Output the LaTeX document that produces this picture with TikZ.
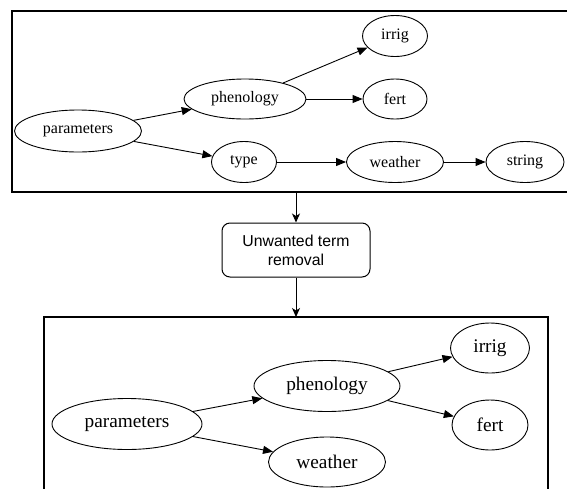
\documentclass[tikz,border=0pt]{standalone}
\usepackage{fontspec}
\setmainfont{Liberation Serif}
\newfontfamily\boxfont{Liberation Sans}
\usetikzlibrary{arrows.meta, shapes.geometric}
\tikzset{
  term/.style = {ellipse, draw, line width=0.9pt, inner sep=0pt},
  small/.style = {term, font=\fontsize{16}{18}\selectfont},
  big/.style = {term, font=\fontsize{19.3}{22}\selectfont},
  dep/.style = {line width=0.9pt, -{Triangle[length=10pt,width=8pt]}},
  flow/.style = {line width=1pt, -{Stealth[length=9pt,width=8pt,inset=2.5pt]}},
  frame/.style = {draw, line width=1.2pt},
  stepbox/.style = {draw, line width=1pt, rounded corners=8pt, align=center,
    minimum width=148pt, minimum height=54pt, inner sep=0pt,
    font=\boxfont\fontsize{15.8}{19}\selectfont}
}

\begin{document}
\begin{tikzpicture}[x=1pt, y=-1pt]
\clip (0,0) rectangle (567,488);

% upper graph
\draw[frame] (12,11) rectangle (590,192);
\node at (78,131) [small, minimum width=127pt, minimum height=42pt] (par1) {parameters};
\node at (245,99) [small, minimum width=122pt, minimum height=40pt] (phen1) {phenology};
\node at (395,36) [small, minimum width=65pt, minimum height=41pt] (irr1) {irrig};
\node at (395,99) [small, minimum width=64pt, minimum height=40pt] (fert1) {fert};
\node at (244,162) [small, minimum width=65pt, minimum height=41pt] (type1) {type};
\node at (395,162) [small, minimum width=97pt, minimum height=41pt] (wea1) {weather};
\node at (525,162) [small, minimum width=78pt, minimum height=41pt] (str1) {string};

\draw[dep] (par1)--(phen1);
\draw[dep] (par1)--(type1);
\draw[dep] (phen1)--(irr1);
\draw[dep] (phen1)--(fert1);
\draw[dep] (type1)--(wea1);
\draw[dep] (wea1)--(str1);

% removal step
\coordinate (out1) at (296,192);
\coordinate (in2) at (296,317);
\node at (296,250) [stepbox] (rm) {Unwanted term\\removal};
\draw[flow] (out1)--(rm);
\draw[flow] (rm)--(in2);

% lower graph
\draw[frame] (44,317) rectangle (548,500);
\node at (127,424) [big, minimum width=150pt, minimum height=51pt] (par2) {parameters};
\node at (327,386) [big, minimum width=146pt, minimum height=51pt] (phen2) {phenology};
\node at (490,348) [big, minimum width=79pt, minimum height=50pt] (irr2) {irrig};
\node at (490,425) [big, minimum width=76pt, minimum height=50pt] (fert2) {fert};
\node at (327,462) [big, minimum width=117pt, minimum height=50pt] (wea2) {weather};

\draw[dep] (par2)--(phen2);
\draw[dep] (par2)--(wea2);
\draw[dep] (phen2)--(irr2);
\draw[dep] (phen2)--(fert2);

\end{tikzpicture}
\end{document}
